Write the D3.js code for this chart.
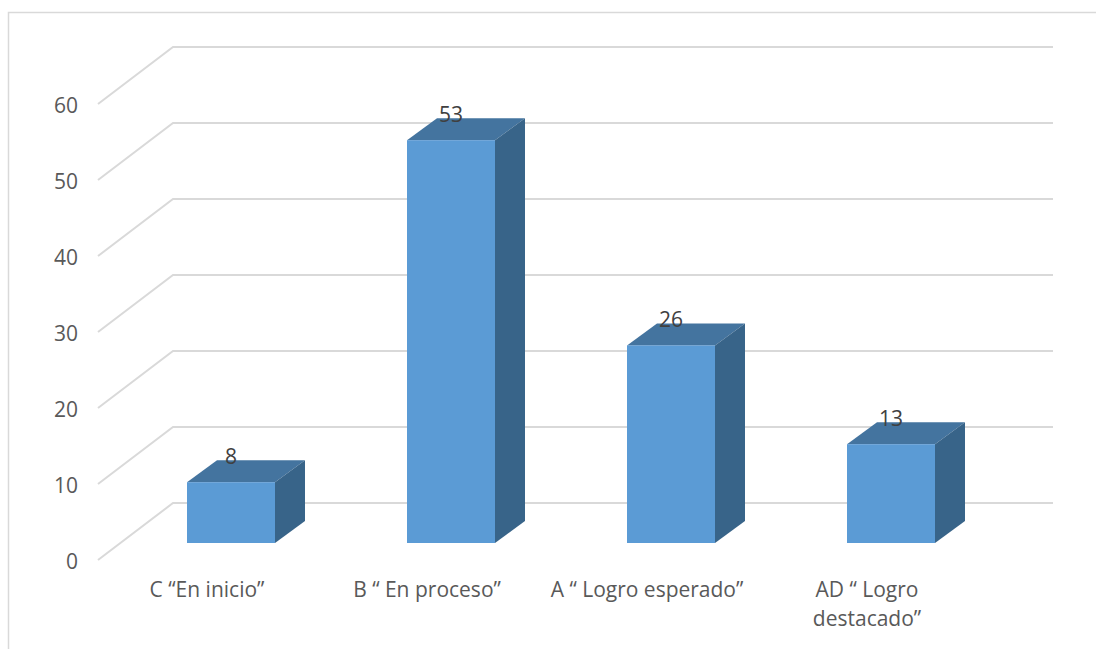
<!DOCTYPE html>
<html>
<head>
<meta charset="utf-8">
<script src="https://cdn.jsdelivr.net/npm/d3@7"></script>
<style>
  html, body { margin: 0; padding: 0; background: #fff; overflow: hidden; }
  text { font-family: "Open Sans", Lato, sans-serif; }
</style>
</head>
<body>
<svg id="chart" width="1096" height="649"></svg>
<script>
"use strict";

const categories = ["C “En inicio”", "B “ En proceso”", "A “ Logro esperado”", "AD “ Logro destacado”"];
const values = [8, 53, 26, 13];
const yTicks = [0, 10, 20, 30, 40, 50, 60];

// labels that wrap in the original
const categoryLines = {
  "AD “ Logro destacado”": ["AD “ Logro", "destacado”"]
};

const svg = d3.select("#chart");

// 3d offsets: wall depth, bar position inside the depth, bar depth
const wallDx = 75, wallDy = -57;
const barDy = -17;
const depthDx = 30, depthDy = -22;

const y = d3.scaleLinear().domain([0, 60]).range([560, 104]);
const x = d3.scaleBand().domain(categories).range([121, 1001])
  .paddingInner(0.6).paddingOuter(0.3);

// chart frame, cut off by the picture on the right and bottom
svg.append("path")
  .attr("d", "M8.5,649V12.5H1096")
  .attr("fill", "none")
  .attr("stroke", "#d9d9d9")
  .attr("stroke-width", 1.5);

// gridlines: side wall then back wall
const grid = svg.append("g");
grid.selectAll("path")
  .data(yTicks)
  .enter()
  .append("path")
  .attr("d", d => {
    const p = d3.path();
    p.moveTo(98, y(d));
    p.lineTo(98 + wallDx, y(d) + wallDy);
    p.lineTo(1053, y(d) + wallDy);
    return p.toString();
  })
  .attr("fill", "none")
  .attr("stroke", "#d9d9d9")
  .attr("stroke-width", 2);

// y axis
const yAxis = svg.append("g")
  .attr("transform", "translate(78,2)")
  .call(d3.axisLeft(y).tickValues(yTicks).tickSize(0).tickPadding(0));
yAxis.select(".domain").remove();
yAxis.selectAll("text")
  .style("font-family", "'Open Sans', Lato, sans-serif")
  .style("font-size", "21px")
  .attr("fill", "#595959");

// bars
const bars = svg.append("g").selectAll("g")
  .data(categories.map((c, i) => ({ c: c, v: values[i] })))
  .enter()
  .append("g");

const bw = x.bandwidth();
const base = y(0) + barDy;
const topOf = d => y(d.v) + barDy;

bars.append("path") // top face
  .attr("d", d => {
    const x0 = x(d.c), t = topOf(d);
    return `M${x0},${t}L${x0 + depthDx},${t + depthDy}H${x0 + bw + depthDx}L${x0 + bw},${t}Z`;
  })
  .attr("fill", "#44749f");

bars.append("path") // side face
  .attr("d", d => {
    const x1 = x(d.c) + bw, t = topOf(d);
    return `M${x1},${t}L${x1 + depthDx},${t + depthDy}V${base + depthDy}L${x1},${base}Z`;
  })
  .attr("fill", "#386489");

bars.append("rect") // front face
  .attr("x", d => x(d.c))
  .attr("y", topOf)
  .attr("width", bw)
  .attr("height", d => base - topOf(d))
  .attr("fill", "#5b9bd5");

// value labels
bars.append("text")
  .attr("x", d => x(d.c) + bw / 2)
  .attr("y", d => topOf(d) - 18)
  .attr("text-anchor", "middle")
  .style("font-size", "21px")
  .attr("fill", "#404040")
  .text(d => d.v);

// category labels
const catLabels = svg.append("g").selectAll("text")
  .data(categories)
  .enter()
  .append("text")
  .attr("text-anchor", "middle")
  .style("font-size", "21px")
  .attr("fill", "#595959");

catLabels.selectAll("tspan")
  .data(d => (categoryLines[d] || [d]).map(line => ({ c: d, line: line })))
  .enter()
  .append("tspan")
  .attr("x", d => x(d.c) + bw / 2 - 24)
  .attr("y", (d, i) => 597 + i * 29)
  .text(d => d.line);
</script>
</body>
</html>
